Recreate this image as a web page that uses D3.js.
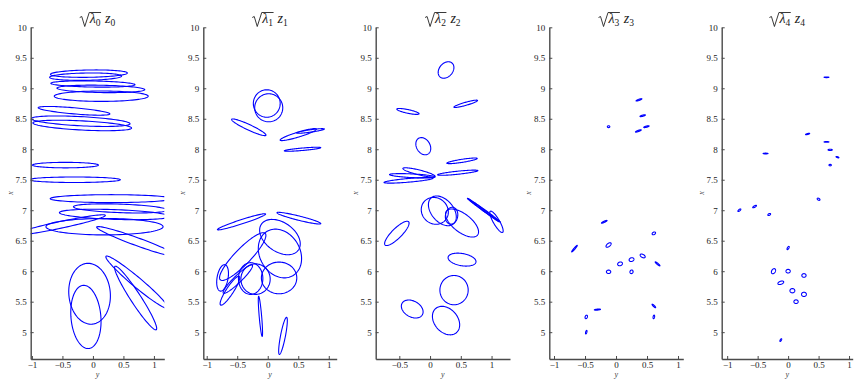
<!DOCTYPE html>
<html>
<head>
<meta charset="utf-8">
<script src="https://cdn.jsdelivr.net/npm/d3@7"></script>
<style>
  body { margin: 0; background: #fff; }
  svg { display: block; font-family: "Liberation Serif", "Times New Roman", serif; }
  .axis text { font-family: "Liberation Serif", "Times New Roman", serif; font-size: 9px; fill: #222; }
  .axis path, .axis line { stroke: #4a4a4a; }
  .axis path { stroke-width: 1.4; }
  .ell { fill: none; stroke: #00f; stroke-width: 1.1; }
  .lab { font-size: 8px; font-style: italic; fill: #444; }
</style>
</head>
<body>
<svg id="chart" width="855" height="379"></svg>
<script>
// ---- data: each ellipse is [y centre, x centre, semi-axis a, semi-axis b, angle of a (deg)]
const xTicks = [5, 5.5, 6, 6.5, 7, 7.5, 8, 8.5, 9, 9.5, 10];
const yTicks = [-1, -0.5, 0, 0.5, 1];
const xDomain = [4.56, 10];
const yDomains = [[-1.02, 1.17], [-1.056, 1.13], [-0.884, 1.30], [-1.076, 1.085], [-1.09, 1.06]];
const subIdx = ['0', '1', '2', '3', '4'];

const ellipses0 = [
  [-0.066, 9.24, 0.63, 0.06, 1],
  [-0.12, 9.19, 0.59, 0.06, 1],
  [0.0, 9.07, 0.69, 0.05, -1],
  [0.13, 8.99, 0.72, 0.06, -1],
  [0.136, 8.87, 0.77, 0.085, 0],
  [-0.31, 8.63, 0.59, 0.05, -5],
  [-0.2, 8.46, 0.81, 0.075, -3],
  [-0.175, 8.39, 0.81, 0.075, -3],
  [-0.45, 7.74, 0.54, 0.045, 0],
  [-0.3, 7.5, 0.75, 0.045, 0],
  [0.3, 7.19, 1.0, 0.065, 0],
  [0.45, 7.03, 0.77, 0.07, -2],
  [0.35, 6.93, 0.9, 0.08, -2],
  [0.19, 6.73, 0.96, 0.135, 0],
  [-0.53, 6.76, 0.75, 0.055, 12],
  [0.72, 6.485, 0.7, 0.065, -20],
  [-0.055, 5.63, 0.5, 0.34, 95],
  [-0.115, 5.25, 0.52, 0.245, 95],
  [0.72, 5.82, 0.66, 0.08, -40],
  [0.70, 5.56, 0.62, 0.085, -57]
];
const ellipses1 = [
  [-0.016, 8.75, 0.22, 0.225, 0],
  [0.016, 8.68, 0.23, 0.23, 0],
  [-0.31, 8.36, 0.31, 0.045, -25],
  [0.5, 8.24, 0.31, 0.04, 17],
  [0.70, 8.30, 0.23, 0.02, 8],
  [0.57, 8.0, 0.30, 0.02, 5],
  [-0.43, 6.81, 0.415, 0.035, 18],
  [0.51, 6.87, 0.37, 0.035, -14],
  [0.2, 6.56, 0.37, 0.24, -35],
  [0.2, 6.29, 0.42, 0.33, -60],
  [-0.41, 6.24, 0.53, 0.13, 46],
  [-0.28, 5.88, 0.26, 0.2, 90],
  [-0.2, 5.87, 0.25, 0.24, 90],
  [0.186, 5.89, 0.29, 0.26, 0],
  [-0.74, 5.89, 0.22, 0.09, 80],
  [-0.62, 5.68, 0.28, 0.06, 57],
  [-0.49, 5.87, 0.33, 0.06, 44],
  [-0.12, 5.26, 0.33, 0.02, 95],
  [0.25, 4.94, 0.31, 0.04, 79]
];
const ellipses2 = [
  [0.26, 9.30, 0.15, 0.11, 50],
  [0.58, 8.745, 0.2, 0.025, 16],
  [-0.36, 8.62, 0.185, 0.03, -12],
  [-0.11, 8.05, 0.15, 0.11, -60],
  [0.52, 7.81, 0.25, 0.025, 9],
  [0.45, 7.615, 0.33, 0.025, 6],
  [-0.18, 7.62, 0.27, 0.04, -14],
  [-0.29, 7.565, 0.37, 0.03, -3],
  [-0.35, 7.49, 0.4, 0.03, 5],
  [0.077, 6.99, 0.23, 0.21, -45],
  [0.2, 6.99, 0.28, 0.18, -50],
  [0.35, 6.91, 0.14, 0.1, 80],
  [0.52, 6.79, 0.32, 0.15, -38],
  [0.875, 7.0, 0.33, 0.015, -36],
  [0.87, 7.0, 0.31, 0.01, -37],
  [1.08, 6.81, 0.2, 0.05, -60],
  [-0.54, 6.62, 0.27, 0.08, 45],
  [0.52, 6.19, 0.23, 0.1, -10],
  [0.39, 5.69, 0.24, 0.23, 90],
  [-0.29, 5.38, 0.19, 0.13, -30],
  [0.26, 5.19, 0.26, 0.19, -50]
];
const ellipses3 = [
  [0.37, 8.81, 0.05, 0.01, 20],
  [0.43, 8.55, 0.045, 0.01, 15],
  [-0.12, 8.37, 0.02, 0.015, 0],
  [0.36, 8.30, 0.05, 0.01, 20],
  [0.49, 8.37, 0.045, 0.01, 15],
  [-0.19, 6.81, 0.05, 0.01, 25],
  [-0.67, 6.37, 0.07, 0.01, 50],
  [-0.12, 6.43, 0.05, 0.025, 40],
  [0.61, 6.62, 0.03, 0.02, 30],
  [0.065, 6.12, 0.04, 0.03, 20],
  [0.25, 6.19, 0.04, 0.03, 20],
  [0.43, 6.25, 0.045, 0.025, -30],
  [-0.12, 5.99, 0.035, 0.028, 0],
  [0.25, 5.99, 0.03, 0.025, 70],
  [0.67, 6.12, 0.05, 0.01, -40],
  [-0.30, 5.37, 0.05, 0.008, 5],
  [-0.48, 5.25, 0.03, 0.018, 70],
  [-0.48, 5.0, 0.03, 0.01, 75],
  [0.61, 5.43, 0.04, 0.01, -45],
  [0.61, 5.25, 0.03, 0.012, 80]
];
const ellipses4 = [
  [0.63, 9.18, 0.04, 0.005, 0],
  [0.32, 8.25, 0.035, 0.008, 15],
  [0.63, 8.12, 0.04, 0.006, 0],
  [0.69, 7.99, 0.035, 0.01, 0],
  [-0.37, 7.93, 0.04, 0.006, 0],
  [0.81, 7.87, 0.025, 0.008, -20],
  [0.69, 7.74, 0.02, 0.012, 0],
  [0.50, 7.18, 0.025, 0.015, -30],
  [-0.80, 7.0, 0.03, 0.012, 40],
  [-0.55, 7.06, 0.035, 0.012, 30],
  [-0.31, 6.93, 0.025, 0.014, 30],
  [0.0, 6.38, 0.03, 0.012, 60],
  [-0.24, 6.0, 0.045, 0.03, 60],
  [0.0, 6.0, 0.035, 0.03, 0],
  [0.26, 5.93, 0.035, 0.03, 0],
  [-0.12, 5.81, 0.05, 0.025, 20],
  [0.07, 5.68, 0.04, 0.035, 0],
  [0.26, 5.62, 0.04, 0.035, 0],
  [0.13, 5.50, 0.035, 0.03, 0],
  [-0.12, 4.87, 0.025, 0.01, 60]
];
const allEllipses = [ellipses0, ellipses1, ellipses2, ellipses3, ellipses4];

// ---- layout (pixel placement of each panel's plot box)
const panelLR = [[30.7, 164.3], [203.3, 336.7], [375.7, 510], [549.3, 683.3], [721.7, 852.7]];
const TOP = 27.3, BOTTOM = 359;

const svg = d3.select('#chart');
const ys = d3.scaleLinear().domain(xDomain).range([BOTTOM, TOP]);   // vertical: x
const fmt = d3.format('~g');

// points round an ellipse in data space
function ellipsePts(e) {
  const [cy, cx, a, b, deg] = e, th = deg * Math.PI / 180;
  return d3.range(0, 96).map(i => {
    const t = i / 96 * 2 * Math.PI;
    return [cy + a*Math.cos(th)*Math.cos(t) - b*Math.sin(th)*Math.sin(t),
            cx + a*Math.sin(th)*Math.cos(t) + b*Math.cos(th)*Math.sin(t)];
  });
}

panelLR.forEach(([L, R], p) => {
  const xs = d3.scaleLinear().domain(yDomains[p]).range([L, R]);   // horizontal: y
  const g = svg.append('g');

  g.append('clipPath').attr('id', 'clip' + p)
    .append('rect').attr('x', L).attr('y', TOP).attr('width', R - L).attr('height', BOTTOM - TOP);

  const line = d3.line().x(d => xs(d[0])).y(d => ys(d[1])).curve(d3.curveLinearClosed);
  g.append('g').attr('clip-path', `url(#clip${p})`)
    .selectAll('path').data(allEllipses[p]).join('path')
    .attr('class', 'ell').attr('d', d => line(ellipsePts(d)));

  // axes, matlab style: ticks inward, box off
  g.append('g').attr('class', 'axis').attr('transform', `translate(${L},0)`)
    .call(d3.axisLeft(ys).tickValues(xTicks).tickFormat(fmt).tickSizeInner(-3).tickSizeOuter(0).tickPadding(4));
  const yd = yDomains[p];
  g.append('g').attr('class', 'axis').attr('transform', `translate(0,${BOTTOM})`)
    .call(d3.axisBottom(xs).tickValues(yTicks.filter(v => v >= yd[0] && v <= yd[1]))
      .tickFormat(fmt).tickSizeInner(-3).tickSizeOuter(0).tickPadding(2.5));

  g.append('text').attr('class', 'lab').attr('x', (L + R) / 2).attr('y', 376.5)
    .attr('text-anchor', 'middle').text('y');
  g.append('text').attr('class', 'lab')
    .attr('transform', `translate(${L - 18},193) rotate(-90)`)
    .attr('text-anchor', 'middle').text('x');

  // title  √λ_p z_p
  const tg = g.append('g');
  const base = 23;
  let x = 0;
  const rad = tg.append('path').attr('fill', 'none').attr('stroke', '#222').attr('stroke-width', 0.9);
  const radW = 9.5;
  x += radW + 0.5;
  const lam = tg.append('text').attr('x', x).attr('y', base).attr('font-size', 14).attr('font-style', 'italic')
    .attr('fill', '#222').text('λ');
  x += lam.node().getComputedTextLength();
  const s1 = tg.append('text').attr('x', x).attr('y', base + 3).attr('font-size', 9.5).attr('fill', '#222').text(subIdx[p]);
  x += s1.node().getComputedTextLength() + 0.5;
  const overEnd = x;
  x += 4;
  const z = tg.append('text').attr('x', x).attr('y', base).attr('font-size', 14).attr('font-style', 'italic')
    .attr('fill', '#222').text('z');
  x += z.node().getComputedTextLength();
  const s2 = tg.append('text').attr('x', x).attr('y', base + 3).attr('font-size', 9.5).attr('fill', '#222').text(subIdx[p]);
  x += s2.node().getComputedTextLength();
  const topY = base - 10.5;
  rad.attr('d', `M0,${base-5.5} L2,${base-6.5} L5,${base+3.5} L${radW},${topY} L${overEnd},${topY}`);
  tg.attr('transform', `translate(${(L + R) / 2 - x / 2},0)`);
});
</script>
</body>
</html>
